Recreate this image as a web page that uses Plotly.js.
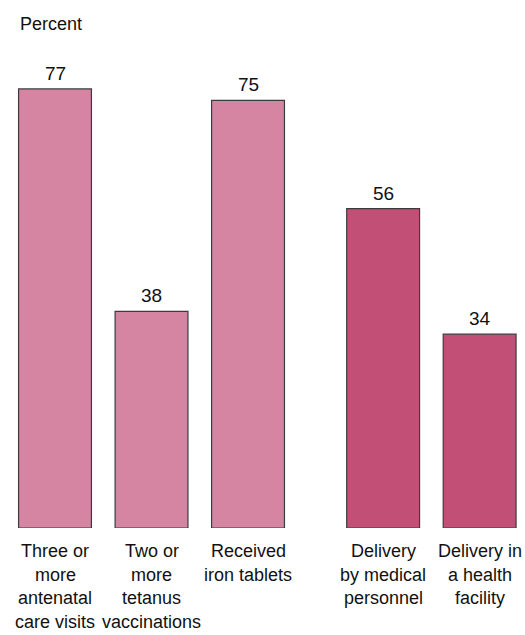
<!DOCTYPE html>
<html>
<head>
<meta charset="utf-8">
<script src="https://cdn.plot.ly/plotly-3.0.1.min.js"></script>
<style>
  html, body { margin: 0; padding: 0; background: #ffffff; }
  #chart { width: 525px; height: 635px; }
</style>
</head>
<body>
<div id="chart"></div>
<script>
// ---- Data ----
const categories = [
  "Three or<br>more<br>antenatal<br>care visits",
  "Two or<br>more<br>tetanus<br>vaccinations",
  "Received<br>iron tablets",
  "Delivery<br>by medical<br>personnel",
  "Delivery in<br>a health<br>facility"
];
const percentValues = [77, 38, 75, 56, 34];
const groups = ["antenatal", "antenatal", "antenatal", "delivery", "delivery"];
const yAxisLabel = "Percent";

// ---- Styles ----
const groupColors = { antenatal: "#d584a2", delivery: "#c24f76" };
const FONT = "'Liberation Sans', Arial, Helvetica, sans-serif";
const groupGap = 0.4;

// positions: index along the axis plus a gap between the two groups
const xPos = [];
let offset = 0;
for (let i = 0; i < categories.length; i++) {
  if (i > 0 && groups[i] !== groups[i - 1]) offset += groupGap;
  xPos.push(i + offset);
}

const trace = {
  type: "bar",
  x: xPos,
  y: percentValues,
  width: 0.755,
  marker: {
    color: groups.map(g => groupColors[g]),
    line: { color: "#3c3c3c", width: 1.2 }
  },
  hoverinfo: "none"
};

const annotations = [];
// value labels above bars
percentValues.forEach((v, i) => {
  annotations.push({
    x: xPos[i], xref: "x",
    y: v, yref: "y",
    yanchor: "bottom", xanchor: "center",
    yshift: 3,
    text: String(v),
    showarrow: false,
    font: { family: FONT, size: 19, color: "#111111" }
  });
});
// category labels, one annotation per line
const lineStep = 23.7;
categories.forEach((cat, i) => {
  cat.split("<br>").forEach((line, k) => {
    annotations.push({
      x: xPos[i], xref: "x",
      y: 0, yref: "paper",
      yanchor: "top", xanchor: "center",
      yshift: -12 - k * lineStep,
      borderpad: 0,
      text: line,
      showarrow: false,
      font: { family: FONT, size: 18, color: "#111111" }
    });
  });
});
annotations.push({
  x: 18 / 525, xref: "paper", xanchor: "left",
  y: 1, yref: "paper", yanchor: "top", yshift: -12,
  text: yAxisLabel, showarrow: false,
  font: { family: FONT, size: 18, color: "#111111" }
});

const layout = {
  width: 525,
  height: 635,
  margin: { l: 0, r: 0, t: 0, b: 107, pad: 0 },
  paper_bgcolor: "#ffffff",
  plot_bgcolor: "#ffffff",
  showlegend: false,
  xaxis: {
    range: [-0.57, 4.87],
    showticklabels: false, showgrid: false, zeroline: false,
    showline: false, ticks: "", fixedrange: true
  },
  yaxis: {
    range: [0, 92.6],
    visible: false, showgrid: false, zeroline: false, fixedrange: true
  },
  annotations: annotations
};

Plotly.newPlot("chart", [trace], layout, { displayModeBar: false, staticPlot: true });
</script>
</body>
</html>
